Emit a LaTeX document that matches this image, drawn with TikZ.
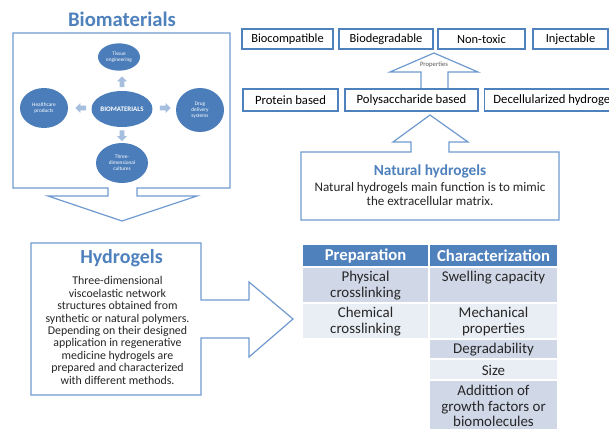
\documentclass[tikz,border=0pt]{standalone}
\usepackage{fontspec}
\setmainfont{Carlito}
\usetikzlibrary{shapes.geometric,shapes.arrows}
\definecolor{tblue}{HTML}{4F81BD}
\definecolor{calblue}{HTML}{6F9AD0}
\definecolor{boxblue}{HTML}{4F81BD}
\definecolor{ellblue}{HTML}{4A7DBA}
\definecolor{arrfill}{HTML}{A7BFDE}
\definecolor{rowdark}{HTML}{D0D8E8}
\definecolor{rowlight}{HTML}{E9EDF4}
\begin{document}
\begin{tikzpicture}[x=0.75pt,y=-0.75pt,
  callout/.style={draw=calblue, line width=0.9pt, line join=miter},
  pbox/.style={draw=boxblue, line width=1.1pt, minimum height=15pt, inner sep=0pt, font=\fontsize{9.3}{10}\selectfont},
  qbox/.style={draw=boxblue, line width=1.1pt, minimum height=16.5pt, inner sep=0pt, font=\fontsize{9.5}{10}\selectfont},
  ell/.style={ellipse, fill=ellblue, text=white, inner sep=0pt, align=center, font=\fontsize{4}{4.6}\selectfont},
  smallarr/.style={single arrow, fill=arrfill, inner sep=1.6pt, single arrow head extend=1.8pt, minimum height=8pt},
  bigtitle/.style={text=tblue, font=\fontsize{15.5}{18}\selectfont\bfseries},
  cell/.style={draw=white, line width=0.8pt},
  ctext/.style={align=center, font=\fontsize{11.2}{11.4}\selectfont, text=black!85},
  hdr/.style={text=white, font=\fontsize{12.5}{14}\selectfont\bfseries},
  body/.style={align=center, font=\fontsize{8.9}{9.3}\selectfont, text=black!85}]
\useasboundingbox (0,0) rectangle (609,428);
\clip (0,0) rectangle (609,428);
\fill[white] (0,0) rectangle (609,428);

% ---------- Biomaterials panel ----------
\node[bigtitle] (biot) at (122,19) {Biomaterials};
\draw[callout] (108,188) -- (13,188) -- (13,33) -- (230,33) -- (230,188) -- (137,188)
  -- (137,196) -- (197,196) -- (122,221) -- (48,196) -- (108,196) -- cycle;

\node[ell, minimum width=45pt, minimum height=27pt, font=\fontsize{5.2}{6}\selectfont\bfseries] (bio) at (122,109) {BIOMATERIALS};
\node[ell, minimum width=31.5pt, minimum height=20.5pt] (tis) at (119,57) {Tissue\\engineering};
\node[ell, minimum width=36pt, minimum height=30pt] (hea) at (44,108) {Healthcare\\products};
\node[ell, minimum width=36pt, minimum height=33pt] (dru) at (200,110) {Drug\\delivery\\systems};
\node[ell, minimum width=39pt, minimum height=30pt] (thr) at (122,163) {Three-\\dimensional\\cultures};

\node[smallarr, shape border rotate=90] (au) at (122,83) {};
\node[smallarr, shape border rotate=270] (ad) at (122,134.5) {};
\node[smallarr, shape border rotate=180] (al) at (82,108) {};
\node[smallarr] (ar) at (164,108) {};

% ---------- Properties ----------
\node[pbox, minimum width=68.25pt] (bc) at (287.5,39) {Biocompatible};
\node[pbox, minimum width=70.5pt] (bd) at (386,39) {Biodegradable};
\node[pbox, minimum width=65.25pt] (nt) at (481.5,39) {Non-toxic};
\node[pbox, minimum width=56.25pt] (inj) at (570.5,39) {Injectable};

\draw[callout] (421,88) -- (421,72) -- (390,72) -- (434,53) -- (478,72) -- (448,72) -- (448,88);
\node[font=\fontsize{5}{6}\selectfont, text=black!65] (propl) at (434,65) {Properties};

\node[qbox, minimum width=71.25pt] (pb) at (290.5,100) {Protein based};
\node[qbox, minimum width=99.75pt] (ps) at (411.5,100) {Polysaccharide based};
\node[qbox, anchor=west, inner xsep=6.5pt] (dh) at (484,100) {Decellularized hydrogels};

% ---------- Natural hydrogels ----------
\draw[callout] (411,152) -- (301,152) -- (301,220) -- (559,220) -- (559,152) -- (449,152)
  -- (449,142) -- (468,142) -- (430,115) -- (393,142) -- (411,142) -- cycle;
\node[text=tblue, font=\fontsize{11.5}{13}\selectfont\bfseries] (nht) at (430,171) {Natural hydrogels};
\node[body, font=\fontsize{9.8}{10.5}\selectfont] (nhb) at (430,194) {Natural hydrogels main function is to mimic\\the extracellular matrix.};

% ---------- Hydrogels ----------
\draw[callout] (31,243) -- (201,243) -- (201,300) -- (249,300) -- (249,282) -- (293,319)
  -- (249,357) -- (249,338) -- (201,338) -- (201,395) -- (31,395) -- cycle;
\node[bigtitle, font=\fontsize{15}{18}\selectfont\bfseries] (hyt) at (121.5,258) {Hydrogels};
\node[body] (hyb) at (117.5,330.5) {Three-dimensional\\viscoelastic network\\structures obtained from\\synthetic or natural polymers.\\Depending on their designed\\application in regenerative\\medicine hydrogels are\\prepared and characterized\\with different methods.};

% ---------- Table ----------
\path[cell, fill=tblue] (302,244) rectangle (429,267);
\path[cell, fill=tblue] (429,244) rectangle (558,267);
\path[cell, fill=rowdark] (302,267) rectangle (429,303);
\path[cell, fill=rowdark] (429,267) rectangle (558,303);
\path[cell, fill=rowlight] (302,303) rectangle (429,339);
\path[cell, fill=rowlight] (429,303) rectangle (558,339);
\path[cell, fill=white] (302,339) rectangle (429,359);
\path[cell, fill=rowdark] (429,339) rectangle (558,359);
\path[cell, fill=white] (302,359) rectangle (429,380);
\path[cell, fill=rowlight] (429,359) rectangle (558,380);
\path[cell, fill=white] (302,380) rectangle (429,430);
\path[cell, fill=rowdark] (429,380) rectangle (558,430);

\node[hdr] (hp) at (365.5,255.5) {Preparation};
\node[hdr] (hc) at (493.5,255.5) {Characterization};
\node[ctext] (c11) at (365.5,285.5) {Physical\\crosslinking};
\node[ctext] (c12) at (493.5,278) {Swelling capacity};
\node[ctext] (c21) at (365.5,321.5) {Chemical\\crosslinking};
\node[ctext] (c22) at (493.5,321.5) {Mechanical\\properties};
\node[ctext] (c32) at (493.5,349.5) {Degradability};
\node[ctext] (c42) at (493.5,370) {Size};
\node[ctext] (c52) at (493.5,406) {Addittion of\\growth factors or\\biomolecules};
\end{tikzpicture}
\end{document}
